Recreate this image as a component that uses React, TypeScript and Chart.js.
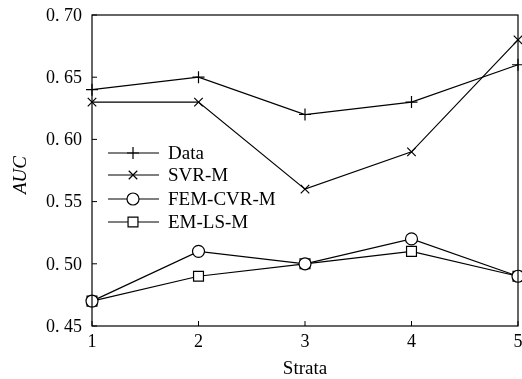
import React, { useEffect, useRef } from "react";
import { Chart, registerables } from "chart.js";

Chart.register(...registerables);

const strata = [1, 2, 3, 4, 5];
const dataSeries = [0.64, 0.65, 0.62, 0.63, 0.66];
const svrM = [0.63, 0.63, 0.56, 0.59, 0.68];
const femCvrM = [0.47, 0.51, 0.5, 0.52, 0.49];
const emLsM = [0.47, 0.49, 0.5, 0.51, 0.49];
const seriesNames = ["Data", "SVR-M", "FEM-CVR-M", "EM-LS-M"];
const yTicks = [0.45, 0.5, 0.55, 0.6, 0.65, 0.7];
const yTickLabels = ["0. 45", "0. 50", "0. 55", "0. 60", "0. 65", "0. 70"];
const xTitle = "Strata";
const yTitle = "AUC";

const FONT = "'Liberation Serif', 'Times New Roman', serif";

function marker(ctx: CanvasRenderingContext2D, style: string, r: number, x: number, y: number) {
  ctx.beginPath();
  if (style === "cross") {
    ctx.moveTo(x - r, y);
    ctx.lineTo(x + r, y);
    ctx.moveTo(x, y - r);
    ctx.lineTo(x, y + r);
    ctx.stroke();
  } else if (style === "crossRot") {
    const d = r * Math.SQRT1_2;
    ctx.moveTo(x - d, y - d);
    ctx.lineTo(x + d, y + d);
    ctx.moveTo(x - d, y + d);
    ctx.lineTo(x + d, y - d);
    ctx.stroke();
  } else if (style === "circle") {
    ctx.arc(x, y, r, 0, Math.PI * 2);
    ctx.fillStyle = "#fff";
    ctx.fill();
    ctx.stroke();
  } else if (style === "rect") {
    const s = r * Math.SQRT1_2;
    ctx.rect(x - s, y - s, 2 * s, 2 * s);
    ctx.fillStyle = "#fff";
    ctx.fill();
    ctx.stroke();
  }
}

const frame = {
  id: "frame",
  afterDraw(chart: any) {
    const { ctx, chartArea: a, scales } = chart;
    ctx.save();
    ctx.strokeStyle = "#000";
    ctx.lineWidth = 1.2;
    ctx.strokeRect(a.left, a.top, a.right - a.left, a.bottom - a.top);
    ctx.lineWidth = 1;
    ctx.beginPath();
    strata.forEach((s) => {
      const x = scales.x.getPixelForValue(s);
      ctx.moveTo(x, a.bottom);
      ctx.lineTo(x, a.bottom - 5);
    });
    yTicks.forEach((v) => {
      const y = scales.y.getPixelForValue(v);
      ctx.moveTo(a.left, y);
      ctx.lineTo(a.left + 5, y);
    });
    ctx.stroke();

    // tick labels
    ctx.fillStyle = "#000";
    ctx.font = `18px ${FONT}`;
    ctx.textBaseline = "middle";
    ctx.textAlign = "center";
    strata.forEach((s) => {
      ctx.fillText(String(s), scales.x.getPixelForValue(s), a.bottom + 16);
    });
    ctx.textAlign = "right";
    yTicks.forEach((v, i) => {
      ctx.fillText(yTickLabels[i], a.left - 10, scales.y.getPixelForValue(v) + 1);
    });

    // legend
    const ys = [153, 175, 199, 222];
    chart.data.datasets.forEach((ds: any, i: number) => {
      const y = ys[i];
      ctx.strokeStyle = "#000";
      ctx.lineWidth = 1.2;
      ctx.beginPath();
      ctx.moveTo(108, y);
      ctx.lineTo(159, y);
      ctx.stroke();
      marker(ctx, ds.pointStyle, ds.pointRadius, 133, y);
      ctx.fillStyle = "#000";
      ctx.font = `19px ${FONT}`;
      ctx.textAlign = "left";
      ctx.textBaseline = "middle";
      ctx.fillText(ds.label, 168, y + 1);
    });

    ctx.fillStyle = "#000";
    ctx.textAlign = "center";
    ctx.textBaseline = "middle";
    ctx.font = `19px ${FONT}`;
    ctx.fillText(xTitle, 305, 369);
    ctx.save();
    ctx.translate(21, 175);
    ctx.rotate(-Math.PI / 2);
    ctx.font = `italic 19px ${FONT}`;
    ctx.fillText(yTitle, 0, 0);
    ctx.restore();
    ctx.restore();
  },
};

export default function App() {
  const ref = useRef<HTMLCanvasElement>(null);
  useEffect(() => {
    document.body.style.margin = "0";
    const mk = (label: string, data: number[], style: string, r: number) => ({
      label,
      data: strata.map((s, i) => ({ x: s, y: data[i] })),
      borderColor: "#000",
      backgroundColor: "#fff",
      borderWidth: 1.2,
      pointStyle: style,
      pointRadius: r,
      pointBorderWidth: 1.2,
      pointBorderColor: "#000",
      pointBackgroundColor: "#fff",
      tension: 0,
      clip: false,
    });
    const chart = new Chart(ref.current!, {
      type: "line",
      data: {
        datasets: [
          mk(seriesNames[0], dataSeries, "cross", 6),
          mk(seriesNames[1], svrM, "crossRot", 6),
          mk(seriesNames[2], femCvrM, "circle", 6),
          mk(seriesNames[3], emLsM, "rect", 7),
        ],
      },
      options: {
        animation: false,
        responsive: false,
        layout: { autoPadding: false, padding: { left: 0, top: 15, right: 4, bottom: 0 } },
        plugins: { legend: { display: false }, tooltip: { enabled: false } },
        scales: {
          x: {
            type: "linear",
            min: 1,
            max: 5,
            afterFit: (s: any) => {
              s.height = 53;
            },
            grid: { display: false, drawTicks: false },
            border: { display: false },
            ticks: { display: false },
          },
          y: {
            min: 0.45,
            max: 0.7,
            afterFit: (s: any) => {
              s.width = 92;
            },
            grid: { display: false, drawTicks: false },
            border: { display: false },
            ticks: { display: false },
          },
        },
      },
      plugins: [frame],
    });
    return () => chart.destroy();
  }, []);
  return <canvas ref={ref} width={522} height={379} style={{ display: "block" }} />;
}
